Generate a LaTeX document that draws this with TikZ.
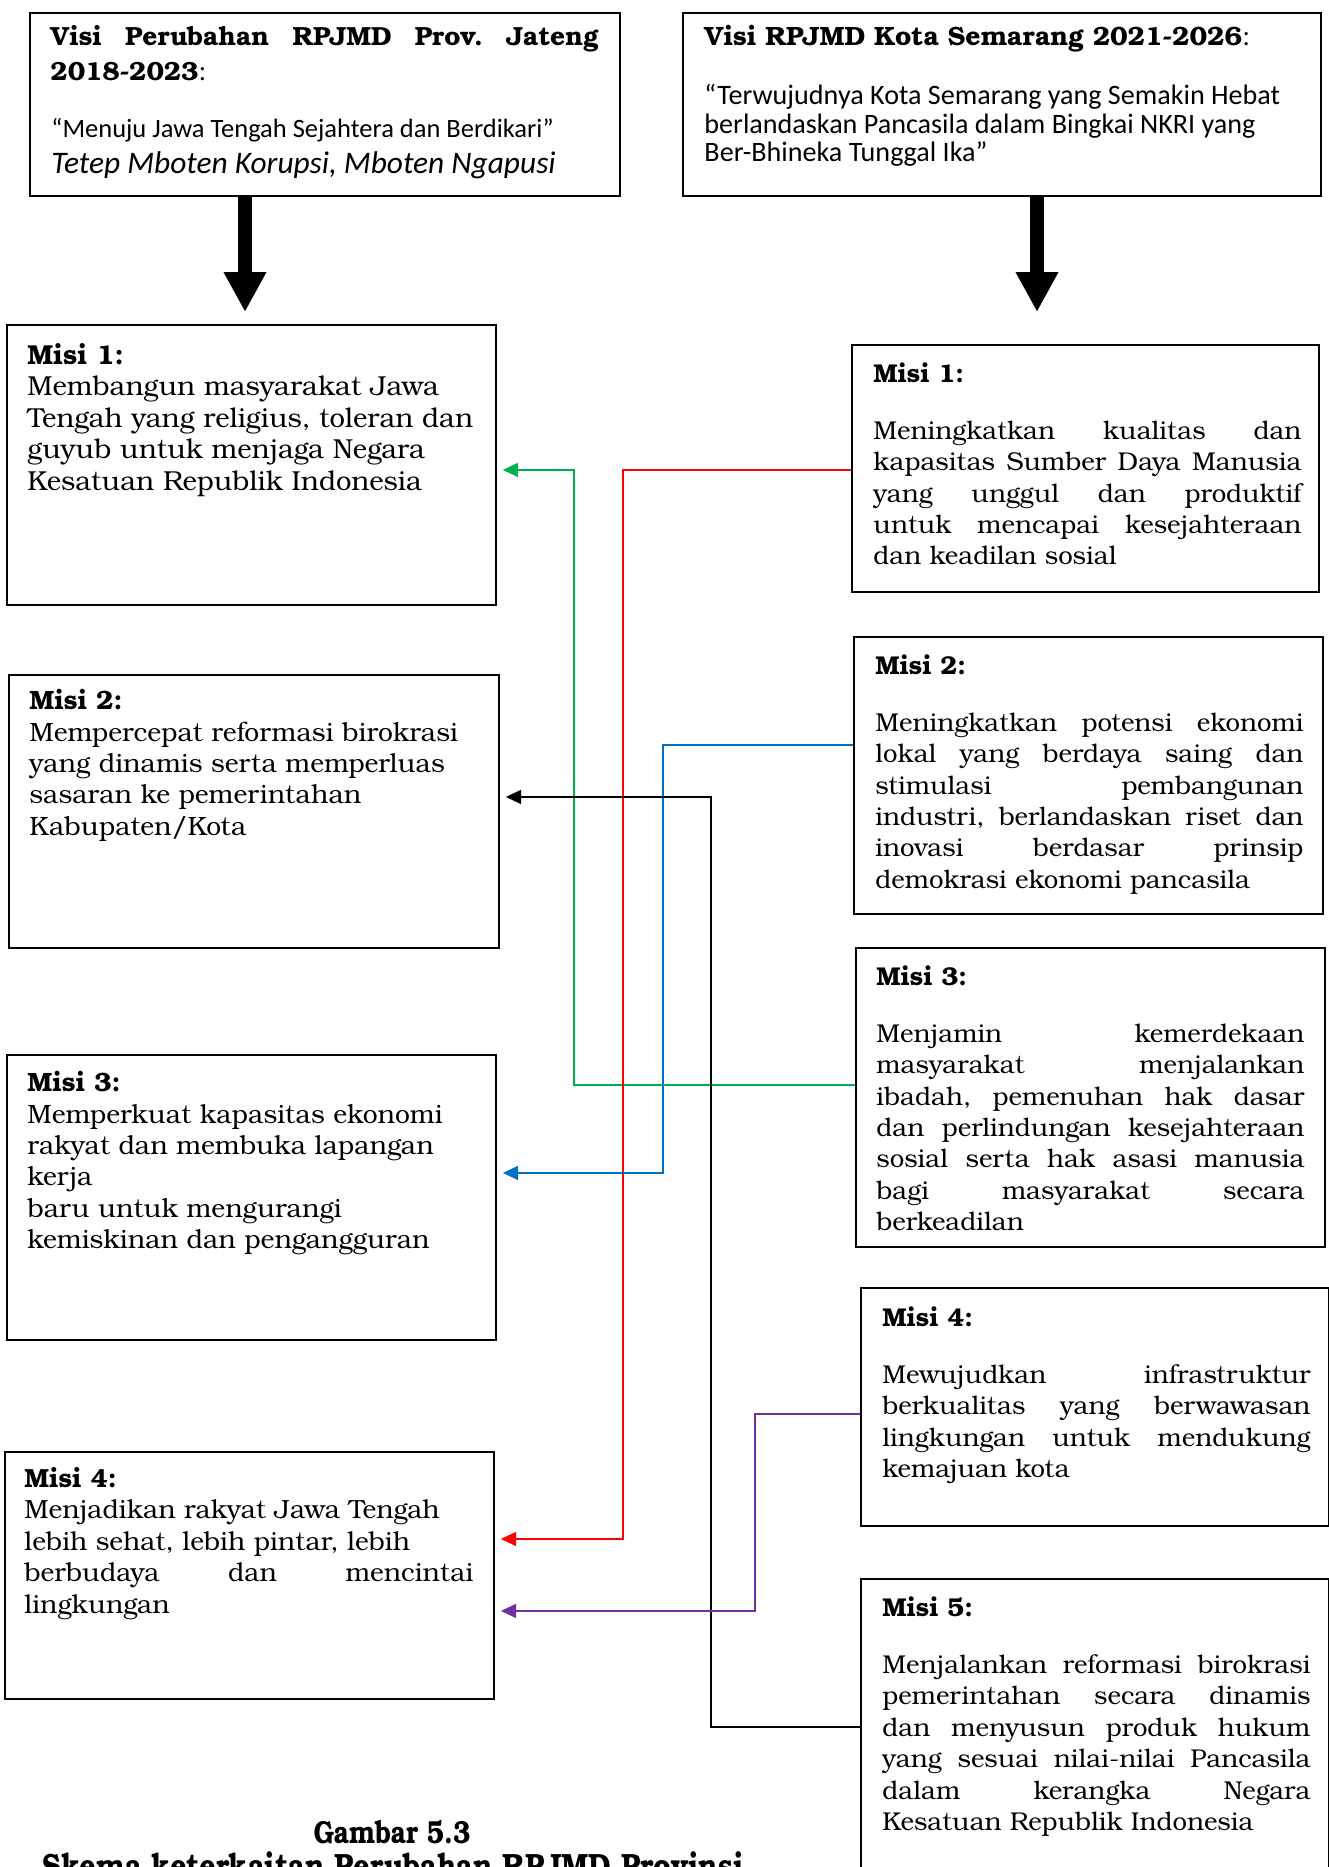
\documentclass[tikz,border=0pt]{standalone}
\usepackage{fontspec}
\setmainfont{TeX Gyre Bonum}
\newfontfamily\calfont{Carlito}
\newfontfamily\capfont[FakeStretch=0.82]{TeX Gyre Bonum}
\usetikzlibrary{arrows.meta,positioning}
\newlength{\pxu}
\setlength{\pxu}{0.015cm}
\definecolor{linkred}{RGB}{255,0,0}
\definecolor{linkgreen}{RGB}{0,176,80}
\definecolor{linkblue}{RGB}{0,112,192}
\definecolor{linkpurple}{RGB}{112,48,160}
\frenchspacing

\begin{document}
\begin{tikzpicture}[x=0.015cm, y=-0.015cm,
    box/.style={draw, line width=0.8pt, anchor=north west, inner sep=0pt},
    misi/.style={anchor=north west, inner sep=0pt, align=justify,
                 font=\fontsize{11}{13.4}\selectfont},
    lmisi/.style={misi, text width=449\pxu},
    rmisi/.style={misi, text width=428\pxu},
    link/.style={line width=0.55pt, -{Triangle[length=6.5pt,width=6pt]}},
    bigarrow/.style={line width=5.7pt, -{Triangle[length=17pt,width=17pt]}}]

  \useasboundingbox (0,0) rectangle (1329,1867);

  % Visi boxes (top)
  \node[box, minimum width=590\pxu, minimum height=183\pxu] (visil) at (29,12) {};
  \node[anchor=north west, inner sep=0pt, text width=548\pxu, align=justify,
        font=\fontsize{11.2}{14.7}\selectfont] (visilt) at ([shift={(21,13)}]visil.north west)
    {\textbf{Visi Perubahan RPJMD Prov. Jateng\linebreak 2018-2023}:};
  \node[anchor=base west, inner sep=0pt, font=\calfont\fontsize{11.3}{12}\selectfont]
    (visilm) at ([shift={(22,125)}]visil.north west)
    {“Menuju Jawa Tengah Sejahtera dan Berdikari”};
  \node[anchor=base west, inner sep=0pt, font=\calfont\itshape\fontsize{13.4}{15}\selectfont]
    (visils) at ([shift={(22,161)}]visil.north west)
    {Tetep Mboten Korupsi, Mboten Ngapusi};

  \node[box, minimum width=638\pxu, minimum height=183\pxu] (visir) at (682,12) {};
  \node[anchor=north west, inner sep=0pt, font=\fontsize{11.3}{14.7}\selectfont]
    (visirt) at ([shift={(22,13)}]visir.north west)
    {\textbf{Visi RPJMD Kota Semarang 2021-2026}:};
  \node[anchor=north west, inner sep=0pt, align=left,
        font=\calfont\fontsize{12}{12.2}\selectfont]
    (visirm) at ([shift={(22,72)}]visir.north west)
    {“Terwujudnya Kota Semarang yang Semakin Hebat\\
     berlandaskan Pancasila dalam Bingkai NKRI yang\\
     Ber-Bhineka Tunggal Ika”};

  \coordinate (al) at (245,312);
  \coordinate (ar) at (1037,312);
  \draw[bigarrow] (visil.south -| al) -- (al);
  \draw[bigarrow] (visir.south -| ar) -- (ar);

  % Misi Provinsi (left)
  \node[box, minimum width=489\pxu, minimum height=280\pxu] (l1) at (6,324) {};
  \node[lmisi, font=\fontsize{11.7}{13.4}\selectfont] (l1t) at ([shift={(21,19)}]l1.north west)
    {\textbf{Misi 1:}\\ Membangun masyarakat Jawa\\ Tengah yang religius, toleran dan\\
     guyub untuk menjaga Negara\\ Kesatuan Republik Indonesia};

  \node[box, minimum width=490\pxu, minimum height=273\pxu] (l2) at (8,674) {};
  \node[lmisi, font=\fontsize{11.3}{13.4}\selectfont] (l2t) at ([shift={(21,15)}]l2.north west)
    {\textbf{Misi 2:}\\ Mempercepat reformasi birokrasi\\ yang dinamis serta memperluas\\
     sasaran ke pemerintahan\\ Kabupaten/Kota};

  \node[box, minimum width=489\pxu, minimum height=285\pxu] (l3) at (6,1054) {};
  \node[lmisi, font=\fontsize{11.3}{13.4}\selectfont] (l3t) at ([shift={(21,17)}]l3.north west)
    {\textbf{Misi 3:}\\ Memperkuat kapasitas ekonomi\\ rakyat dan membuka lapangan\\ kerja\\
     baru untuk mengurangi\\ kemiskinan dan pengangguran};

  \node[box, minimum width=489\pxu, minimum height=247\pxu] (l4) at (4,1451) {};
  \node[lmisi, font=\fontsize{11.2}{13.4}\selectfont] (l4t) at ([shift={(20,16)}]l4.north west)
    {\textbf{Misi 4:}\\ Menjadikan rakyat Jawa Tengah\\ lebih sehat, lebih pintar, lebih\\
     berbudaya dan mencintai\linebreak lingkungan};

  % Misi Kota (right)
  \node[box, minimum width=467\pxu, minimum height=247\pxu] (r1) at (851,344) {};
  \node[rmisi] (r1t) at ([shift={(22,18)}]r1.north west)
    {\textbf{Misi 1:}\\[11pt] Meningkatkan kualitas dan\linebreak kapasitas Sumber Daya Manusia\linebreak
     yang unggul dan produktif\linebreak untuk mencapai kesejahteraan\linebreak dan keadilan sosial};

  \node[box, minimum width=469\pxu, minimum height=277\pxu] (r2) at (853,636) {};
  \node[rmisi] (r2t) at ([shift={(22,18)}]r2.north west)
    {\textbf{Misi 2:}\\[11pt] Meningkatkan potensi ekonomi\linebreak lokal yang berdaya saing dan\linebreak
     stimulasi pembangunan\linebreak industri, berlandaskan riset dan\linebreak
     inovasi berdasar prinsip\linebreak demokrasi ekonomi pancasila};

  \node[box, minimum width=469\pxu, minimum height=299\pxu] (r3) at (855,947) {};
  \node[rmisi] (r3t) at ([shift={(21,18)}]r3.north west)
    {\textbf{Misi 3:}\\[11pt] Menjamin kemerdekaan\linebreak masyarakat menjalankan\linebreak
     ibadah, pemenuhan hak dasar\linebreak dan perlindungan kesejahteraan\linebreak
     sosial serta hak asasi manusia\linebreak bagi masyarakat secara\linebreak berkeadilan};

  \node[box, minimum width=468\pxu, minimum height=238\pxu] (r4) at (860,1287) {};
  \node[rmisi] (r4t) at ([shift={(22,19)}]r4.north west)
    {\textbf{Misi 4:}\\[11pt] Mewujudkan infrastruktur\linebreak berkualitas yang berwawasan\linebreak
     lingkungan untuk mendukung\linebreak kemajuan kota};

  \node[box, minimum width=468\pxu, minimum height=400\pxu] (r5) at (860,1578) {};
  \node[rmisi] (r5t) at ([shift={(22,18)}]r5.north west)
    {\textbf{Misi 5:}\\[11pt] Menjalankan reformasi birokrasi\linebreak pemerintahan secara dinamis\linebreak
     dan menyusun produk hukum\linebreak yang sesuai nilai-nilai Pancasila\linebreak
     dalam kerangka Negara\linebreak Kesatuan Republik Indonesia};

  % Keterkaitan
  \draw[link, linkgreen] ([yshift=12.5\pxu]r3.west) -- ++(-281,0)
    |- ([xshift=6\pxu,yshift=-5\pxu]l1.east);
  \draw[link, linkred] ([yshift=-1.5\pxu]r1.west) -- ++(-228,0)
    |- ([xshift=6\pxu,yshift=36.5\pxu]l4.east);
  \draw[link, linkblue] ([yshift=30.5\pxu]r2.west) -- ++(-190,0)
    |- ([xshift=6\pxu,yshift=24.5\pxu]l3.east);
  \draw[link, black] ([yshift=52\pxu]r5.west) -- ++(-149,0)
    |- ([xshift=6\pxu,yshift=14.5\pxu]l2.east);
  \draw[link, linkpurple] ([yshift=-7\pxu]r4.west) -- ++(-105,0)
    |- ([xshift=6\pxu,yshift=-35.5\pxu]l4.east);

  % Caption
  \node[anchor=base, inner sep=0pt, font=\capfont\bfseries\fontsize{13.6}{17}\selectfont]
    (cap1) at (392,1843) {Gambar 5.3};
  \node[anchor=base, inner sep=0pt, font=\capfont\bfseries\fontsize{15}{17}\selectfont]
    (cap2) at (393,1878) {Skema keterkaitan Perubahan RPJMD Provinsi};

\end{tikzpicture}
\end{document}
